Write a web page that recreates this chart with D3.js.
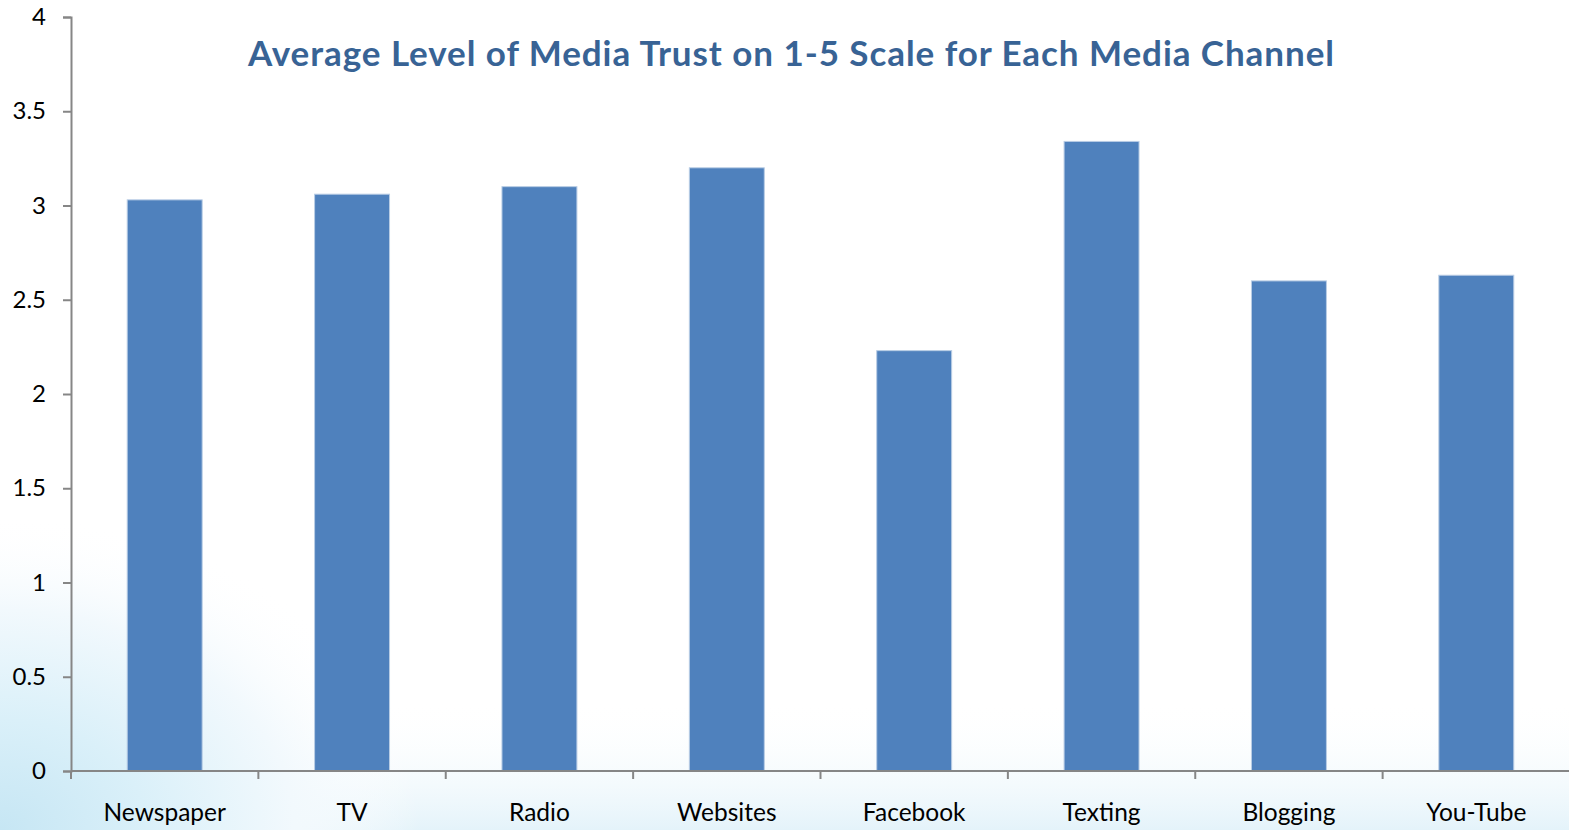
<!DOCTYPE html>
<html><head><meta charset="utf-8">
<script src="https://cdn.jsdelivr.net/npm/d3@7"></script>
<style>body{margin:0;overflow:hidden;background:#fff}svg{display:block}</style>
</head><body><svg id="c" width="1569" height="830"></svg>
<script>
const categories = ["Newspaper","TV","Radio","Websites","Facebook","Texting","Blogging","You-Tube"];
const values = [3.03, 3.06, 3.10, 3.20, 2.23, 3.34, 2.60, 2.63];
const yTicks = [0,0.5,1,1.5,2,2.5,3,3.5,4];
const yTickLabels = ["0","0.5","1","1.5","2","2.5","3","3.5","4"];
const title = "Average Level of Media Trust on 1-5 Scale for Each Media Channel";

const W=1569,H=830;
const svg=d3.select("#c");
const defs=svg.append("defs");
const rg=defs.append("radialGradient").attr("id","bg1").attr("gradientUnits","userSpaceOnUse")
  .attr("cx",0).attr("cy",830).attr("r",420)
  .attr("gradientTransform","translate(0,830) scale(1,0.75) translate(0,-830)");
rg.append("stop").attr("offset","0").attr("stop-color","#c6e6f4");
rg.append("stop").attr("offset","0.35").attr("stop-color","#daf0f9");
rg.append("stop").attr("offset","0.7").attr("stop-color","#f2f9fd");
rg.append("stop").attr("offset","1").attr("stop-color","#ffffff").attr("stop-opacity",0);
const lg=defs.append("linearGradient").attr("id","bg2").attr("gradientUnits","userSpaceOnUse")
  .attr("x1",0).attr("y1",830).attr("x2",0).attr("y2",700);
lg.append("stop").attr("offset","0").attr("stop-color","#e4f3fa").attr("stop-opacity",1);
lg.append("stop").attr("offset","1").attr("stop-color","#ffffff").attr("stop-opacity",0);
svg.append("rect").attr("width",W).attr("height",H).attr("fill","#ffffff");
svg.append("rect").attr("width",W).attr("height",H).attr("fill","url(#bg2)");
svg.append("rect").attr("width",W).attr("height",H).attr("fill","url(#bg1)");

const x=d3.scaleBand().domain(categories).range([71,1570]).paddingInner(0.6).paddingOuter(0.3);
const y=d3.scaleLinear().domain([0,4]).range([771,17]);

svg.append("g").selectAll("rect").data(values).join("rect")
  .attr("x",(d,i)=>x(categories[i])).attr("width",x.bandwidth())
  .attr("y",d=>y(d)).attr("height",d=>y(0)-y(d))
  .attr("fill","#4f81bd").attr("stroke","#b9cde5").attr("stroke-width",1);

const font="Lato, 'Open Sans', sans-serif";
const ya=svg.append("g").attr("transform","translate(71,0)")
  .call(d3.axisLeft(y).tickValues(yTicks).tickFormat((d,i)=>yTickLabels[i]).tickSize(8).tickPadding(17));
ya.select(".domain").attr("stroke","#868686").attr("stroke-width",2);
ya.selectAll(".tick line").attr("stroke","#868686").attr("stroke-width",2);
ya.selectAll("text").attr("font-family",font).attr("font-size",24).attr("fill","#000");

const xa=svg.append("g").attr("transform","translate(0,771)")
  .call(d3.axisBottom(x).tickSize(0).tickPadding(33));
xa.select(".domain").remove();
xa.selectAll("text").attr("font-family",font).attr("font-size",24.5).attr("fill","#000");
const bounds=[...categories.map(c=>x(c)-x.step()*x.paddingInner()/2), x(categories[categories.length-1])+x.bandwidth()+x.step()*x.paddingInner()/2];
svg.append("line").attr("x1",71).attr("x2",1569).attr("y1",771).attr("y2",771).attr("stroke","#868686").attr("stroke-width",2);
svg.append("g").selectAll("line").data(bounds).join("line")
  .attr("x1",d=>d).attr("x2",d=>d).attr("y1",771).attr("y2",779).attr("stroke","#868686").attr("stroke-width",2);

svg.append("text").attr("x",791).attr("y",66).attr("text-anchor","middle")
  .attr("font-family",font).attr("font-weight","bold").attr("font-size",35)
  .attr("textLength",1086).attr("lengthAdjust","spacing").attr("fill","#386395").text(title);
</script></body></html>
